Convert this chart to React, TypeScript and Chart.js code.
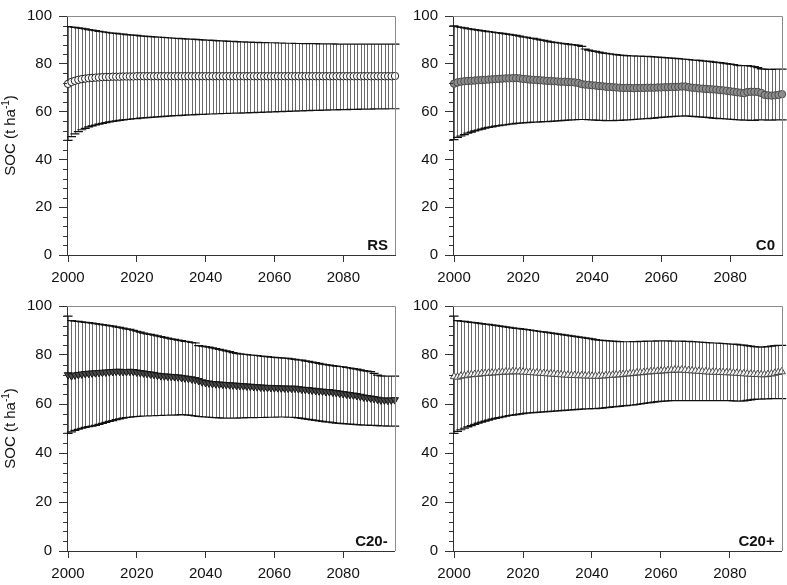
import React, { useEffect, useRef } from 'react';
import { Chart, registerables } from 'chart.js';

Chart.register(...registerables);

const FONT = '"Liberation Sans", Arial, Helvetica, sans-serif';

const years = [
  2000, 2001, 2002, 2003, 2004, 2005, 2006, 2007, 2008, 2009,
  2010, 2011, 2012, 2013, 2014, 2015, 2016, 2017, 2018, 2019,
  2020, 2021, 2022, 2023, 2024, 2025, 2026, 2027, 2028, 2029,
  2030, 2031, 2032, 2033, 2034, 2035, 2036, 2037, 2038, 2039,
  2040, 2041, 2042, 2043, 2044, 2045, 2046, 2047, 2048, 2049,
  2050, 2051, 2052, 2053, 2054, 2055, 2056, 2057, 2058, 2059,
  2060, 2061, 2062, 2063, 2064, 2065, 2066, 2067, 2068, 2069,
  2070, 2071, 2072, 2073, 2074, 2075, 2076, 2077, 2078, 2079,
  2080, 2081, 2082, 2083, 2084, 2085, 2086, 2087, 2088, 2089,
  2090, 2091, 2092, 2093, 2094, 2095,
];

const xTickValues = [2000, 2020, 2040, 2060, 2080];
const yTickValues = [0, 20, 40, 60, 80, 100];
const yMinorTickValues = [4, 8, 12, 16, 24, 28, 32, 36, 44, 48, 52, 56, 64, 68, 72, 76, 84, 88, 92, 96];

// ---------- RS ----------
const rsMean = [
  71.6, 72.4, 72.9, 73.3, 73.6, 73.8, 74.0, 74.1, 74.2, 74.3,
  74.4, 74.5, 74.5, 74.6, 74.6, 74.6, 74.7, 74.7, 74.7, 74.7,
  74.8, 74.8, 74.8, 74.8, 74.8, 74.8, 74.8, 74.8, 74.8, 74.8,
  74.8, 74.8, 74.8, 74.8, 74.8, 74.8, 74.8, 74.8, 74.8, 74.8,
  74.8, 74.8, 74.8, 74.8, 74.8, 74.8, 74.8, 74.8, 74.8, 74.8,
  74.8, 74.8, 74.8, 74.8, 74.8, 74.8, 74.8, 74.8, 74.8, 74.8,
  74.8, 74.8, 74.8, 74.8, 74.8, 74.8, 74.8, 74.8, 74.8, 74.8,
  74.8, 74.8, 74.8, 74.8, 74.8, 74.8, 74.8, 74.8, 74.8, 74.8,
  74.8, 74.8, 74.8, 74.8, 74.8, 74.8, 74.8, 74.8, 74.8, 74.8,
  74.8, 74.8, 74.8, 74.8, 74.8, 74.9,
];
const rsUpper = [
  95.6, 95.4, 95.2, 95.0, 94.8, 94.6, 94.3, 94.1, 93.9, 93.6,
  93.4, 93.2, 93.0, 92.8, 92.7, 92.5, 92.4, 92.2, 92.1, 92.0,
  91.9, 91.7, 91.6, 91.5, 91.4, 91.3, 91.2, 91.1, 91.0, 90.9,
  90.8, 90.7, 90.6, 90.5, 90.4, 90.3, 90.3, 90.2, 90.1, 90.0,
  89.9, 89.9, 89.8, 89.7, 89.6, 89.6, 89.5, 89.4, 89.4, 89.3,
  89.2, 89.2, 89.1, 89.1, 89.0, 89.0, 88.9, 88.9, 88.8, 88.8,
  88.8, 88.7, 88.7, 88.6, 88.6, 88.6, 88.5, 88.5, 88.5, 88.4,
  88.4, 88.4, 88.4, 88.3, 88.3, 88.3, 88.3, 88.3, 88.2, 88.2,
  88.2, 88.2, 88.2, 88.2, 88.2, 88.2, 88.2, 88.2, 88.2, 88.2,
  88.2, 88.2, 88.2, 88.2, 88.2, 88.2,
];
const rsLower = [
  48.0, 49.5, 50.7, 51.6, 52.4, 53.0, 53.6, 54.0, 54.4, 54.8,
  55.1, 55.4, 55.7, 55.9, 56.1, 56.3, 56.5, 56.7, 56.8, 57.0,
  57.1, 57.3, 57.4, 57.5, 57.6, 57.7, 57.8, 57.9, 58.0, 58.1,
  58.2, 58.3, 58.3, 58.4, 58.5, 58.6, 58.6, 58.7, 58.8, 58.8,
  58.9, 59.0, 59.0, 59.1, 59.1, 59.2, 59.2, 59.3, 59.3, 59.4,
  59.4, 59.5, 59.5, 59.6, 59.6, 59.7, 59.7, 59.8, 59.8, 59.9,
  59.9, 60.0, 60.0, 60.1, 60.1, 60.2, 60.2, 60.3, 60.3, 60.4,
  60.4, 60.5, 60.5, 60.5, 60.6, 60.6, 60.7, 60.7, 60.7, 60.8,
  60.8, 60.8, 60.9, 60.9, 60.9, 61.0, 61.0, 61.0, 61.0, 61.1,
  61.1, 61.1, 61.1, 61.2, 61.2, 61.2,
];

// ---------- C0 ----------
const c0Mean = [
  71.7, 72.2, 72.5, 72.7, 72.8, 72.9, 73.0, 73.1, 73.2, 73.3,
  73.4, 73.5, 73.6, 73.7, 73.8, 73.9, 73.9, 74.0, 74.0, 73.9,
  73.7, 73.6, 73.4, 73.3, 73.2, 73.1, 73.0, 72.9, 72.8, 72.7,
  72.6, 72.5, 72.5, 72.4, 72.3, 72.2, 72.0, 71.5, 71.3, 71.2,
  71.0, 70.9, 70.7, 70.6, 70.4, 70.3, 70.2, 70.1, 70.0, 69.9,
  69.9, 69.9, 69.8, 69.9, 69.9, 69.9, 70.0, 70.0, 70.0, 70.1,
  70.1, 70.2, 70.2, 70.3, 70.3, 70.4, 70.5, 70.5, 70.2, 70.0,
  69.9, 69.7, 69.6, 69.5, 69.4, 69.3, 69.2, 69.0, 68.9, 68.7,
  68.5, 68.3, 68.1, 67.9, 67.7, 68.2, 68.3, 68.3, 68.2, 67.8,
  67.0, 66.8, 66.7, 66.8, 67.0, 67.3,
];
const c0Upper = [
  95.9, 95.5, 95.2, 95.0, 94.7, 94.5, 94.3, 94.1, 93.9, 93.7,
  93.5, 93.3, 93.1, 92.9, 92.7, 92.5, 92.3, 92.1, 91.9, 91.6,
  91.3, 91.1, 90.8, 90.6, 90.3, 90.0, 89.8, 89.5, 89.2, 89.0,
  88.8, 88.6, 88.4, 88.2, 88.0, 87.9, 87.7, 87.3, 86.2, 85.7,
  85.4, 85.2, 84.9, 84.6, 84.4, 84.2, 84.0, 83.8, 83.6, 83.5,
  83.4, 83.3, 83.3, 83.2, 83.2, 83.1, 83.1, 83.0, 82.9, 82.8,
  82.7, 82.6, 82.5, 82.4, 82.3, 82.2, 82.0, 81.9, 81.8, 81.6,
  81.5, 81.4, 81.2, 81.1, 81.0, 80.8, 80.6, 80.5, 80.3, 80.1,
  79.9, 79.7, 79.4, 79.2, 79.2, 79.2, 79.0, 78.8, 78.4, 77.9,
  77.8, 77.7, 77.7, 77.8, 77.8, 77.8,
];
const c0Lower = [
  48.3, 49.2, 49.8, 50.4, 51.0, 51.4, 51.9, 52.3, 52.7, 53.1,
  53.4, 53.6, 53.9, 54.1, 54.3, 54.5, 54.7, 54.9, 55.1, 55.2,
  55.3, 55.4, 55.5, 55.6, 55.6, 55.7, 55.8, 55.8, 55.9, 56.0,
  56.1, 56.2, 56.3, 56.4, 56.5, 56.6, 56.7, 56.7, 56.7, 56.6,
  56.5, 56.4, 56.3, 56.3, 56.2, 56.2, 56.2, 56.3, 56.3, 56.4,
  56.5, 56.6, 56.7, 56.8, 56.9, 57.0, 57.1, 57.2, 57.3, 57.5,
  57.6, 57.7, 57.8, 57.9, 58.0, 58.1, 58.1, 58.2, 58.1, 58.0,
  57.9, 57.8, 57.7, 57.6, 57.5, 57.3, 57.2, 57.1, 57.0, 56.9,
  56.8, 56.7, 56.6, 56.5, 56.4, 56.4, 56.3, 56.3, 56.5, 56.6,
  56.5, 56.4, 56.4, 56.5, 56.5, 56.5,
];

// ---------- C20- ----------
const c20mMean = [
  71.9, 71.5, 71.8, 72.0, 72.2, 72.4, 72.5, 72.6, 72.7, 72.8,
  72.9, 73.0, 73.1, 73.2, 73.3, 73.3, 73.2, 73.2, 73.3, 73.2,
  73.0, 72.8, 72.6, 72.4, 72.2, 72.0, 71.7, 71.5, 71.4, 71.3,
  71.2, 71.1, 71.0, 70.8, 70.6, 70.4, 70.2, 69.9, 69.5, 69.0,
  68.7, 68.5, 68.3, 68.2, 68.1, 68.0, 67.9, 67.8, 67.7, 67.6,
  67.5, 67.4, 67.3, 67.2, 67.1, 67.0, 66.9, 66.8, 66.7, 66.7,
  66.6, 66.6, 66.5, 66.5, 66.4, 66.4, 66.4, 66.2, 66.0, 65.9,
  65.8, 65.6, 65.5, 65.3, 65.2, 65.0, 65.0, 64.8, 64.6, 64.4,
  64.2, 64.0, 63.8, 63.6, 63.4, 63.1, 62.8, 62.6, 62.4, 62.2,
  61.9, 61.6, 61.6, 61.5, 61.6, 61.7,
];
const c20mUpper = [
  95.9, 94.0, 93.8, 93.7, 93.5, 93.3, 93.2, 93.0, 92.8, 92.6,
  92.4, 92.2, 92.0, 91.8, 91.5, 91.3, 91.0, 90.7, 90.5, 90.1,
  89.7, 89.3, 88.9, 88.6, 88.4, 88.1, 87.8, 87.5, 87.2, 86.9,
  86.6, 86.4, 86.1, 85.9, 85.6, 85.4, 85.1, 84.9, 83.8, 83.6,
  83.4, 83.2, 82.9, 82.6, 82.3, 82.0, 81.7, 81.4, 81.0, 80.7,
  80.5, 80.3, 80.2, 80.0, 79.9, 79.8, 79.6, 79.4, 79.3, 79.1,
  79.0, 78.9, 78.8, 78.7, 78.6, 78.4, 78.2, 78.0, 77.9, 77.6,
  77.4, 77.1, 76.9, 76.6, 76.3, 76.1, 75.9, 75.7, 75.5, 75.3,
  75.2, 74.9, 74.7, 74.4, 74.2, 73.9, 73.6, 73.4, 73.2, 72.5,
  71.8, 71.5, 71.4, 71.4, 71.4, 71.4,
];
const c20mLower = [
  48.0, 48.6, 49.2, 49.7, 50.1, 50.5, 50.8, 51.0, 51.3, 51.7,
  52.1, 52.5, 52.9, 53.2, 53.6, 53.9, 54.2, 54.5, 54.6, 54.8,
  54.9, 55.0, 55.1, 55.1, 55.2, 55.2, 55.3, 55.3, 55.4, 55.4,
  55.5, 55.5, 55.6, 55.7, 55.6, 55.5, 55.3, 55.1, 54.9, 54.8,
  54.7, 54.6, 54.5, 54.4, 54.3, 54.2, 54.2, 54.2, 54.2, 54.2,
  54.3, 54.3, 54.4, 54.4, 54.4, 54.5, 54.5, 54.5, 54.6, 54.6,
  54.6, 54.7, 54.7, 54.7, 54.6, 54.6, 54.5, 54.3, 54.1, 53.9,
  53.7, 53.5, 53.3, 53.1, 52.9, 52.7, 52.6, 52.4, 52.2, 52.1,
  52.0, 51.9, 51.8, 51.7, 51.6, 51.5, 51.4, 51.4, 51.3, 51.3,
  51.2, 51.1, 51.1, 51.0, 51.0, 51.0,
];

// ---------- C20+ ----------
const c20pMean = [
  71.2, 71.0, 71.4, 71.6, 71.8, 72.0, 72.1, 72.2, 72.4, 72.5,
  72.6, 72.7, 72.8, 72.9, 73.0, 73.1, 73.1, 73.2, 73.2, 73.2,
  73.1, 73.0, 72.9, 72.8, 72.7, 72.6, 72.5, 72.4, 72.3, 72.2,
  72.1, 72.0, 71.9, 71.8, 71.7, 71.7, 71.6, 71.6, 71.5, 71.5,
  71.4, 71.4, 71.4, 71.5, 71.6, 71.7, 71.8, 71.9, 72.0, 72.1,
  72.3, 72.4, 72.5, 72.7, 72.8, 72.9, 73.1, 73.2, 73.3, 73.4,
  73.5, 73.6, 73.7, 73.8, 73.9, 73.9, 73.9, 73.8, 73.7, 73.6,
  73.5, 73.4, 73.3, 73.2, 73.1, 73.0, 73.0, 72.9, 72.9, 72.8,
  72.8, 72.7, 72.6, 72.5, 72.4, 72.3, 72.2, 72.1, 72.1, 72.0,
  72.0, 72.1, 72.3, 72.6, 72.9, 73.2,
];
const c20pUpper = [
  95.9, 94.0, 93.8, 93.7, 93.5, 93.3, 93.2, 93.0, 92.8, 92.6,
  92.5, 92.3, 92.1, 91.9, 91.7, 91.5, 91.3, 91.1, 90.9, 90.8,
  90.6, 90.4, 90.2, 90.0, 89.8, 89.6, 89.4, 89.2, 89.0, 88.8,
  88.6, 88.4, 88.2, 88.0, 87.8, 87.6, 87.4, 87.2, 87.0, 86.8,
  86.6, 86.3, 86.1, 86.0, 85.9, 85.8, 85.7, 85.6, 85.5, 85.4,
  85.4, 85.4, 85.5, 85.5, 85.6, 85.6, 85.7, 85.7, 85.7, 85.8,
  85.8, 85.8, 85.8, 85.7, 85.7, 85.7, 85.7, 85.6, 85.6, 85.5,
  85.4, 85.3, 85.2, 85.1, 85.0, 84.9, 84.9, 84.8, 84.7, 84.6,
  84.5, 84.4, 84.3, 84.1, 84.0, 83.8, 83.6, 83.4, 83.3, 83.2,
  83.3, 83.4, 83.6, 83.8, 83.9, 83.9,
];
const c20pLower = [
  48.0, 48.8, 49.5, 50.1, 50.7, 51.2, 51.7, 52.2, 52.6, 53.0,
  53.4, 53.8, 54.1, 54.4, 54.7, 55.0, 55.3, 55.5, 55.7, 55.9,
  56.1, 56.3, 56.4, 56.5, 56.6, 56.7, 56.8, 56.9, 57.0, 57.1,
  57.2, 57.3, 57.4, 57.5, 57.6, 57.7, 57.8, 57.9, 58.0, 58.0,
  58.1, 58.1, 58.2, 58.3, 58.5, 58.6, 58.8, 58.9, 59.0, 59.2,
  59.3, 59.5, 59.6, 59.8, 60.0, 60.2, 60.4, 60.6, 60.8, 61.0,
  61.1, 61.2, 61.3, 61.4, 61.4, 61.4, 61.4, 61.4, 61.4, 61.4,
  61.4, 61.4, 61.4, 61.4, 61.4, 61.4, 61.4, 61.4, 61.4, 61.4,
  61.4, 61.3, 61.2, 61.2, 61.3, 61.5, 61.7, 61.9, 62.0, 62.0,
  62.1, 62.1, 62.2, 62.2, 62.2, 62.2,
];

const X_MIN = 1999.7;
const X_MAX = 2095;

type PanelCfg = {
  label: string;
  mean: number[];
  upper: number[];
  lower: number[];
  pointStyle: string;
  rotation: number;
  radius: number;
  fill: string;
  border: string;
};

const panels: PanelCfg[] = [
  { label: 'RS', mean: rsMean, upper: rsUpper, lower: rsLower, pointStyle: 'circle', rotation: 0, radius: 3.7, fill: '#ffffff', border: '#1e1e1e' },
  { label: 'C0', mean: c0Mean, upper: c0Upper, lower: c0Lower, pointStyle: 'circle', rotation: 0, radius: 3.7, fill: '#8e8e8e', border: '#4a4a4a' },
  { label: 'C20-', mean: c20mMean, upper: c20mUpper, lower: c20mLower, pointStyle: 'triangle', rotation: 180, radius: 4.3, fill: '#4a4a4a', border: '#151515' },
  { label: 'C20+', mean: c20pMean, upper: c20pUpper, lower: c20pLower, pointStyle: 'triangle', rotation: 0, radius: 4.3, fill: '#f4f4f4', border: '#4a4a4a' },
];

const decoPlugin = {
  id: 'deco',
  beforeDatasetsDraw(chart: any, _args: any, opts: any) {
    const { ctx } = chart;
    const x = chart.scales.x;
    const y = chart.scales.y;
    const p: PanelCfg = opts.panel;
    ctx.save();
    ctx.strokeStyle = '#6a6a6a';
    ctx.lineWidth = 1;
    ctx.beginPath();
    years.forEach((yr, i) => {
      const px = Math.round(x.getPixelForValue(yr)) + 0.5;
      ctx.moveTo(px, y.getPixelForValue(p.upper[i]));
      ctx.lineTo(px, y.getPixelForValue(p.lower[i]));
    });
    ctx.stroke();
    ctx.strokeStyle = '#111111';
    ctx.lineWidth = 1.2;
    ctx.beginPath();
    years.forEach((yr, i) => {
      const px = x.getPixelForValue(yr);
      [p.upper[i], p.lower[i]].forEach((v) => {
        const py = y.getPixelForValue(v);
        ctx.moveTo(px - 4.5, py);
        ctx.lineTo(px + 4.5, py);
      });
    });
    ctx.stroke();
    ctx.restore();
  },
  afterDraw(chart: any, _args: any, opts: any) {
    const { ctx, chartArea } = chart;
    const y = chart.scales.y;
    const { left, right, top, bottom } = chartArea;
    ctx.save();
    ctx.strokeStyle = '#8a8a8a';
    ctx.lineWidth = 1;
    ctx.beginPath();
    ctx.moveTo(left, Math.round(top) + 0.5);
    ctx.lineTo(Math.round(right) + 0.5, Math.round(top) + 0.5);
    ctx.lineTo(Math.round(right) + 0.5, bottom);
    ctx.stroke();
    ctx.strokeStyle = '#333333';
    ctx.beginPath();
    yMinorTickValues.forEach((v) => {
      const py = Math.round(y.getPixelForValue(v)) + 0.5;
      ctx.moveTo(left - 4, py);
      ctx.lineTo(left, py);
    });
    ctx.stroke();
    ctx.fillStyle = '#111111';
    ctx.font = `bold 15px ${FONT}`;
    ctx.textAlign = 'right';
    ctx.textBaseline = 'alphabetic';
    ctx.fillText(opts.panel.label, right - 7, bottom - 5);
    if (opts.showTitle) {
      const big = `15px ${FONT}`;
      const small = `10px ${FONT}`;
      const p1 = 'SOC (t ha';
      const p2 = '-1';
      const p3 = ')';
      ctx.font = big;
      const w1 = ctx.measureText(p1).width;
      const w3 = ctx.measureText(p3).width;
      ctx.font = small;
      const w2 = ctx.measureText(p2).width;
      const total = w1 + w2 + w3;
      ctx.translate(15, (top + bottom) / 2);
      ctx.rotate(-Math.PI / 2);
      ctx.textAlign = 'left';
      let cx = -total / 2;
      ctx.font = big;
      ctx.fillText(p1, cx, 0);
      cx += w1;
      ctx.font = small;
      ctx.fillText(p2, cx, -6);
      cx += w2;
      ctx.font = big;
      ctx.fillText(p3, cx, 0);
    }
    ctx.restore();
  },
};

type PanelProps = {
  cfg: PanelCfg;
  left: number;
  top: number;
  width: number;
  height: number;
  yAxisWidth: number;
  xAxisHeight: number;
  padTop: number;
  padRight: number;
  showTitle: boolean;
};

function Panel({ cfg, left, top, width, height, yAxisWidth, xAxisHeight, padTop, padRight, showTitle }: PanelProps) {
  const ref = useRef<HTMLCanvasElement>(null);
  useEffect(() => {
    if (!ref.current) return;
    const chart = new Chart(ref.current, {
      type: 'scatter',
      data: {
        datasets: [
          {
            data: years.map((yr, i) => ({ x: yr, y: cfg.mean[i] })),
            pointStyle: cfg.pointStyle as any,
            rotation: cfg.rotation,
            pointRadius: cfg.radius,
            pointBackgroundColor: cfg.fill,
            pointBorderColor: cfg.border,
            pointBorderWidth: 1,
            showLine: false,
            clip: false as any,
          },
        ],
      },
      options: {
        animation: false,
        responsive: false,
        devicePixelRatio: 1,
        layout: { padding: { top: padTop, right: padRight, left: 0, bottom: 0 } },
        plugins: {
          legend: { display: false },
          tooltip: { enabled: false },
          deco: { panel: cfg, showTitle },
        } as any,
        scales: {
          x: {
            type: 'linear',
            min: X_MIN,
            max: X_MAX,
            afterBuildTicks: (s: any) => {
              s.ticks = xTickValues.map((v) => ({ value: v }));
            },
            afterFit: (s: any) => {
              s.height = xAxisHeight;
            },
            grid: { drawOnChartArea: false, drawTicks: true, tickLength: 7, color: '#333333', lineWidth: 1 },
            border: { display: true, color: '#333333', width: 1 },
            ticks: {
              font: { family: FONT, size: 15 },
              color: '#111111',
              padding: 7,
              maxRotation: 0,
              autoSkip: false,
              callback: (v: any) => String(v),
            },
          },
          y: {
            type: 'linear',
            min: 0,
            max: 100,
            afterBuildTicks: (s: any) => {
              s.ticks = yTickValues.map((v) => ({ value: v }));
            },
            afterFit: (s: any) => {
              s.width = yAxisWidth;
            },
            grid: { drawOnChartArea: false, drawTicks: true, tickLength: 8, color: '#333333', lineWidth: 1 },
            border: { display: true, color: '#333333', width: 1 },
            ticks: {
              font: { family: FONT, size: 15 },
              color: '#111111',
              padding: 7,
              autoSkip: false,
              callback: (v: any) => String(v),
            },
          },
        },
      },
      plugins: [decoPlugin as any],
    });
    return () => chart.destroy();
  }, []);
  return (
    <div style={{ position: 'absolute', left, top, width, height }}>
      <canvas ref={ref} width={width} height={height} style={{ display: 'block' }} />
    </div>
  );
}

export default function App() {
  return (
    <div style={{ position: 'absolute', left: 0, top: 0, width: 787, height: 585, background: '#ffffff', overflow: 'hidden' }}>
      <Panel cfg={panels[0]} left={0} top={0} width={400} height={290} yAxisWidth={67} xAxisHeight={35} padTop={10} padRight={5} showTitle={true} />
      <Panel cfg={panels[1]} left={400} top={0} width={387} height={290} yAxisWidth={53} xAxisHeight={35} padTop={10} padRight={5} showTitle={false} />
      <Panel cfg={panels[2]} left={0} top={290} width={400} height={295} yAxisWidth={67} xAxisHeight={34} padTop={16} padRight={5} showTitle={true} />
      <Panel cfg={panels[3]} left={400} top={290} width={387} height={295} yAxisWidth={53} xAxisHeight={34} padTop={16} padRight={5} showTitle={false} />
    </div>
  );
}
